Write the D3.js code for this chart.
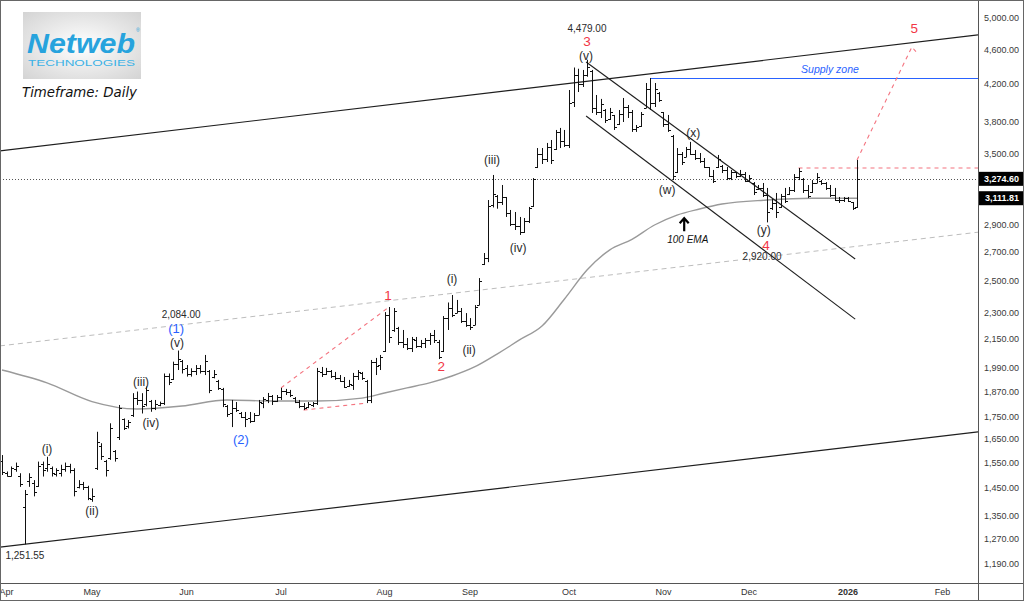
<!DOCTYPE html>
<html><head><meta charset="utf-8">
<script src="https://cdn.jsdelivr.net/npm/d3@7"></script>
<style>body{margin:0;background:#fff;}svg{display:block;}</style>
</head><body>
<svg id="c" width="1024" height="601"></svg>
<script>
// ---------- DATA (daily OHLC, Mar 28 2025 .. Jan 5 2026) ----------
const opens = [1560,1510,1500,1525,1500,1380,1480,1470,1460,1545,1530,1530,1505,1510,1525,1540,1520,1455,1465,1455,1410,
1530,1620,1560,1570,1600,1660,1740,1710,1760,1840,1830,1810,1825,1790,1805,1815,1950,1935,2010,2030,
1990,1960,1975,1990,1975,1975,1945,1925,1885,1800,1770,1790,1770,1750,1745,1730,1760,1815,1830,1850,
1825,1845,1875,1870,1840,1820,1800,1795,1805,1815,1970,1960,1975,1950,1940,1925,1900,1905,1950,1965,
1925,1830,2020,2005,2080,2290,2200,2210,2130,2120,2100,2140,2110,2125,2140,2170,2130,2080,2270,2330,
2300,2310,2250,2230,2230,2350,2620,2660,3060,3130,3080,3120,2990,2910,2890,2850,2930,3045,3380,3500,
3450,3560,3540,3700,3620,3580,4010,4300,4200,4300,4350,3950,3900,3930,3830,3870,3780,3880,3960,3900,
3730,3760,3950,4150,4000,4100,3900,3780,3670,3330,3500,3470,3540,3500,3460,3430,3375,3300,3380,3390,
3350,3280,3330,3300,3320,3260,3240,3190,3200,3140,3030,3070,3040,3130,3150,3180,3290,3270,3180,3160,
3240,3260,3240,3200,3140,3100,3100,3110,3080,3040];
const highs = [1583,1516,1536,1552,1509,1444,1509,1482,1556,1556,1576,1536,1529,1543,1552,1547,1529,1482,1475,1460,1450,
1683,1633,1563,1721,1604,1806,1743,1736,1863,1871,1863,1896,1830,1830,1822,1962,1962,2024,2084,2033,
2006,1989,2006,2006,2060,1980,1980,1929,1889,1806,1830,1820,1773,1773,1773,1768,1830,1844,1864,1854,
1854,1889,1884,1879,1844,1830,1815,1820,1820,1991,1996,1991,1980,1970,1954,1944,1929,1965,1980,1970,
1929,2033,2044,2060,2306,2337,2331,2218,2200,2154,2160,2160,2143,2154,2183,2200,2143,2282,2365,2412,
2381,2331,2300,2270,2349,2522,2694,3097,3308,3138,3222,3122,3017,3001,2962,2954,3041,3281,3551,3551,
3599,3627,3724,3744,3724,4137,4389,4375,4361,4479,4361,4083,4041,3935,3946,3874,3925,4051,3977,3925,
3773,3904,4214,4270,4214,4115,3904,3874,3675,3551,3514,3561,3609,3533,3505,3459,3378,3352,3487,3396,
3378,3352,3334,3352,3334,3308,3247,3222,3239,3197,3105,3155,3147,3197,3205,3316,3369,3281,3222,3264,
3325,3264,3247,3222,3197,3122,3122,3122,3081,3441];
const lows = [1502,1496,1496,1515,1456,1251.55,1456,1420,1456,1496,1515,1496,1496,1496,1515,1509,1420,1450,1444,1406,1400,
1522,1563,1496,1563,1556,1647,1691,1698,1750,1806,1766,1800,1774,1782,1800,1806,1903,1929,1980,1962,
1946,1946,1954,1962,1954,1863,1937,1879,1796,1750,1704,1773,1745,1704,1722,1727,1759,1791,1815,1806,
1820,1830,1854,1844,1815,1791,1782,1791,1796,1806,1944,1954,1939,1929,1919,1889,1894,1879,1929,1929,
1815,1815,1954,1980,2076,2126,2189,2115,2098,2087,2076,2098,2098,2098,2115,2126,2038,2076,2200,2276,
2300,2241,2218,2200,2229,2349,2610,2630,3037,3027,3057,2962,2892,2862,2825,2840,2915,3041,3369,3405,
3423,3405,3533,3551,3561,3551,3956,4115,4170,4284,3894,3874,3843,3793,3823,3724,3773,3803,3843,3705,
3705,3754,3946,3925,3956,4010,3754,3705,3264,3325,3396,3468,3487,3441,3414,3369,3290,3239,3369,3325,
3264,3264,3281,3290,3247,3247,3138,3180,3122,2920,3017,2954,3033,3073,3138,3163,3264,3155,3113,3155,
3239,3222,3180,3122,3089,3073,3081,3081,3017,3033];
const closes = [1515,1500,1530,1540,1465,1430,1495,1435,1540,1520,1545,1510,1520,1525,1540,1520,1440,1465,1455,1415,1420,
1640,1580,1520,1700,1570,1790,1700,1725,1840,1830,1800,1880,1790,1810,1815,1950,1920,2010,2040,1985,
1960,1975,1990,1975,2030,1880,1960,1890,1810,1765,1790,1780,1750,1740,1730,1760,1820,1835,1850,1825,
1845,1875,1870,1855,1820,1800,1790,1810,1815,1975,1960,1975,1950,1940,1925,1895,1910,1950,1970,1940,
1830,2020,2000,2050,2290,2160,2310,2130,2120,2100,2150,2110,2125,2140,2170,2140,2050,2270,2330,2290,
2310,2250,2230,2215,2340,2500,2660,3050,3150,3080,3120,2990,2910,2890,2850,2930,3030,3270,3500,3450,
3560,3440,3700,3620,3580,4000,4300,4200,4300,4400,3950,3900,3990,3820,3900,3750,3880,3960,3900,3730,
3750,3880,4150,4000,4150,4030,3780,3720,3300,3500,3420,3540,3500,3460,3430,3380,3300,3260,3450,3350,
3280,3330,3300,3320,3260,3280,3160,3200,3140,3000,3070,3000,3130,3090,3180,3290,3340,3180,3130,3240,
3290,3240,3200,3140,3100,3100,3110,3090,3030,3274.6];

// 100 EMA: [bar number, value]
const emaPoints = [[0,1980],[10,1914],[20,1822],[30,1787],[40,1801],[50,1830],[60,1825],[70,1825],[80,1839],[85,1864],
[90,1889],[95,1914],[100,1949],[105,1996],[110,2065],[115,2143],[120,2223],[125,2387],[130,2576],[135,2715],[140,2793],
[145,2900],[150,2977],[155,3025],[160,3065],[170,3097],[180,3112],[190,3111.81]];

// price axis tick labels
const priceTicks = [5000,4600,4200,3800,3500,2900,2700,2500,2300,2150,1990,1870,1750,1650,1550,1450,1350,1270,1190];
const lastPrice = 3274.60, emaLast = 3111.81;

// market holidays (NSE)
const holidays = ['2025-03-31','2025-04-10','2025-04-14','2025-04-18','2025-05-01','2025-08-15','2025-08-27',
'2025-10-02','2025-10-22','2025-11-05','2025-12-25','2026-01-26'];

// annotation lines: [bar number, price]
const upperChannel = [[1,3532],[201,4677]];
const lowerChannel = [[5,1251.55],[201,1646]];
const midDashed = [[1,2114],[201,2784]];
const descUpper = [[129.8,4453],[189.6,2652]];
const descLower = [[129.8,3863],[189.6,2264]];
const wave1Upper = [[62,1889],[86,2337]];
const wave1Lower = [[67,1782],[81,1815]];
const wave5Path = [[190,3441],[202.2,4633],[203.1,4576]];
const supplyZone = {start:144, price:4270, text:'Supply zone', textAt:184, textPrice:4372};
const resistance = {start:177, price:3369};

// wave labels: [text, bar number, price]
const blackLabels = [['(i)',10,1608],['(ii)',20,1366],['(iii)',30.9,1919],['(iv)',33.1,1722],['(v)',38.9,2126],
['(i)',100,2516],['(ii)',103.8,2087],['(iii)',108.9,3441],['(iv)',114.7,2729],['(v)',129.8,4524],
['(w)',147.8,3180],['(x)',153.6,3694],['(y)',169.3,2862]];
const redLabels = [['1',85.8,2412],['2',97.6,2001],['3',130,4700],['4',169.8,2751],['5',202.7,4869]];
const blueLabels = [['(1)',38.7,2206],['(2)',53.1,1647]];
const priceNotes = [['2,084.00',39.8,2294],['4,479.00',130,4860],['2,920.00',168.9,2666],['1,251.55',5.1,1214]];
const emaNote = {text:'100 EMA', bar:152.4, price:2795, arrowBar:151.6, arrowPrice:2952};

// ---------- CHART ----------
const svg = d3.select('#c');
const plotR = 978, plotB = 583;
const fmtDay = d3.timeFormat('%Y-%m-%d');
const days = d3.timeDay.range(new Date(2025,2,28), new Date(2026,1,13))
  .filter(d => d.getDay()%6 !== 0 && !holidays.includes(fmtDay(d)));
const x = d3.scaleLinear().domain([0, days.length-1]).range([2, 2+4.5*(days.length-1)]);
const y = d3.scaleLog().domain([1190,5000]).range([563.5,18]);

svg.append('rect').attr('width',1024).attr('height',601).attr('fill','#fff');
const defs = svg.append('defs');
defs.append('clipPath').attr('id','clip').append('rect').attr('x',0).attr('y',0).attr('width',plotR).attr('height',plotB);
const rg = defs.append('radialGradient').attr('id','logoG').attr('cx','50%').attr('cy','50%').attr('r','70%');
rg.append('stop').attr('offset','0%').attr('stop-color','#ffffff');
rg.append('stop').attr('offset','100%').attr('stop-color','#d4d4d4');

const plot = svg.append('g').attr('clip-path','url(#clip)');

function extLine(pts, x0, x1){
  const [a,b] = pts;
  const ax=x(a[0]), ay=y(a[1]), bx=x(b[0]), by=y(b[1]);
  const m=(by-ay)/(bx-ax);
  return [[x0, ay+m*(x0-ax)],[x1, ay+m*(x1-ax)]];
}
const lineGen = d3.line();

[upperChannel, lowerChannel].forEach(p=>{
  plot.append('path').attr('d', lineGen(extLine(p,0,plotR))).attr('stroke','#1e1e1e').attr('stroke-width',1.2).attr('fill','none');
});
plot.append('path').attr('d', lineGen(extLine(midDashed,0,plotR))).attr('stroke','#bdbdbd')
  .attr('stroke-width',1).attr('stroke-dasharray','5,4').attr('fill','none');

plot.append('path').datum(emaPoints)
  .attr('d', d3.line().x(d=>x(d[0])).y(d=>y(d[1])).curve(d3.curveMonotoneX))
  .attr('stroke','#9a9a9a').attr('stroke-width',1.4).attr('fill','none');

plot.append('line').attr('x1',0).attr('x2',plotR).attr('y1',Math.round(y(lastPrice))+0.5).attr('y2',Math.round(y(lastPrice))+0.5)
  .attr('stroke','#555').attr('stroke-dasharray','1,2');

plot.append('line').attr('x1',x(supplyZone.start)).attr('x2',plotR)
  .attr('y1',Math.round(y(supplyZone.price))+0.5).attr('y2',Math.round(y(supplyZone.price))+0.5)
  .attr('stroke','#2962ff').attr('stroke-width',1);
plot.append('text').attr('x',x(supplyZone.textAt)).attr('y',y(supplyZone.textPrice)).text(supplyZone.text)
  .attr('text-anchor','middle').attr('dominant-baseline','central')
  .attr('font-family','Liberation Sans, Arial, sans-serif').attr('font-size',10.5).attr('font-style','italic').attr('fill','#2962ff');

plot.append('line').attr('x1',x(resistance.start)).attr('x2',plotR)
  .attr('y1',y(resistance.price)).attr('y2',y(resistance.price))
  .attr('stroke','#f4737f').attr('stroke-width',1.1).attr('stroke-dasharray','4,4');
[wave1Upper, wave1Lower, wave5Path].forEach(p=>{
  plot.append('path').attr('d', lineGen(p.map(d=>[x(d[0]),y(d[1])])))
    .attr('stroke','#f4737f').attr('stroke-width',1.1).attr('stroke-dasharray','4,4').attr('fill','none');
});

[descUpper, descLower].forEach(p=>{
  plot.append('path').attr('d', lineGen(p.map(d=>[x(d[0]),y(d[1])])))
    .attr('stroke','#1e1e1e').attr('stroke-width',1.1).attr('fill','none');
});

const px = v => Math.round(v)+0.5;
plot.append('g').selectAll('path').data(d3.range(highs.length)).join('path')
  .attr('d', k=>{
    const cx = px(x(k));
    return `M${cx},${y(highs[k])}V${y(lows[k])}M${cx-2.5},${px(y(opens[k]))}H${cx}M${cx},${px(y(closes[k]))}H${cx+2.5}`;
  })
  .attr('stroke','#111').attr('stroke-width',1).attr('fill','none');

function addLabels(arr, color, size){
  plot.append('g').selectAll('text').data(arr).join('text')
    .attr('x',d=>x(d[1])).attr('y',d=>y(d[2])).text(d=>d[0])
    .attr('text-anchor','middle').attr('dominant-baseline','central')
    .attr('font-family','Liberation Sans, Arial, sans-serif').attr('font-size',size).attr('fill',color);
}
addLabels(blackLabels,'#2a2a2a',12);
addLabels(priceNotes,'#2a2a2a',10);
addLabels(blueLabels,'#2962ff',13);
addLabels(redLabels,'#f23645',13.5);

const ax = x(emaNote.arrowBar), ay = y(emaNote.arrowPrice);
plot.append('path').attr('d',`M${ax},${ay+13}V${ay+1}M${ax-4.5},${ay+5}L${ax},${ay}L${ax+4.5},${ay+5}`)
  .attr('stroke','#000').attr('stroke-width',2.2).attr('fill','none');
plot.append('text').attr('x',x(emaNote.bar)).attr('y',y(emaNote.price)).text(emaNote.text)
  .attr('text-anchor','middle').attr('dominant-baseline','central')
  .attr('font-family','Liberation Sans, Arial, sans-serif').attr('font-size',10).attr('font-style','italic').attr('fill','#111');

svg.append('line').attr('x1',plotR+0.5).attr('x2',plotR+0.5).attr('y1',0).attr('y2',601).attr('stroke','#555');
svg.append('line').attr('x1',0).attr('x2',1024).attr('y1',plotB+0.5).attr('y2',plotB+0.5).attr('stroke','#555');

svg.append('g').selectAll('text').data(priceTicks).join('text')
  .attr('x',1019).attr('y',d=>y(d)).text(d=>d3.format(',.2f')(d))
  .attr('text-anchor','end').attr('dominant-baseline','central')
  .attr('font-family','Liberation Sans, Arial, sans-serif').attr('font-size',9).attr('fill','#3a3a3a');
[lastPrice, emaLast].forEach(v=>{
  const yy = y(v);
  svg.append('rect').attr('x',plotR+1).attr('y',yy-7).attr('width',1024-plotR-1).attr('height',14).attr('fill','#000');
  svg.append('text').attr('x',1019).attr('y',yy).text(d3.format(',.2f')(v))
    .attr('text-anchor','end').attr('dominant-baseline','central')
    .attr('font-family','Liberation Sans, Arial, sans-serif').attr('font-size',9).attr('font-weight','bold').attr('fill','#fff');
});

const monthTicks = days.map((d,k)=>({d,k})).filter(o=>o.k>0 && o.d.getMonth()!==days[o.k-1].getMonth());
svg.append('g').selectAll('text').data(monthTicks).join('text')
  .attr('x',o=>x(o.k)).attr('y',592).text(o=>o.d.getMonth()===0 ? d3.timeFormat('%Y')(o.d) : d3.timeFormat('%b')(o.d))
  .attr('text-anchor','middle').attr('dominant-baseline','central')
  .attr('font-family','Liberation Sans, Arial, sans-serif').attr('font-size',9).attr('fill','#333')
  .attr('font-weight',o=>o.d.getMonth()===0?'bold':'normal');

// logo
svg.append('rect').attr('x',23).attr('y',12).attr('width',118).attr('height',67).attr('fill','url(#logoG)');
svg.append('text').attr('x',27).attr('y',53).text('Netweb').attr('textLength',108).attr('lengthAdjust','spacingAndGlyphs')
  .attr('font-family','Liberation Sans, Arial, sans-serif').attr('font-size',27).attr('font-weight','bold').attr('font-style','italic').attr('fill','#27a3dd');
svg.append('text').attr('x',136).attr('y',32).text('®').attr('font-size',5).attr('fill','#27a3dd').attr('font-family','Liberation Sans, Arial, sans-serif');
svg.append('text').attr('x',28).attr('y',66).text('TECHNOLOGIES').attr('textLength',107).attr('lengthAdjust','spacingAndGlyphs')
  .attr('font-family','Liberation Sans, Arial, sans-serif').attr('font-size',9.5).attr('fill','#3cb2e6');
svg.append('text').attr('x',22).attr('y',97).text('Timeframe: Daily').attr('textLength',115).attr('lengthAdjust','spacingAndGlyphs')
  .attr('font-family','DejaVu Sans, sans-serif').attr('font-size',13.5).attr('font-style','italic').attr('fill','#111');

svg.append('rect').attr('x',0.5).attr('y',0.5).attr('width',1023).attr('height',600).attr('fill','none').attr('stroke','#666');
</script>
</body></html>
